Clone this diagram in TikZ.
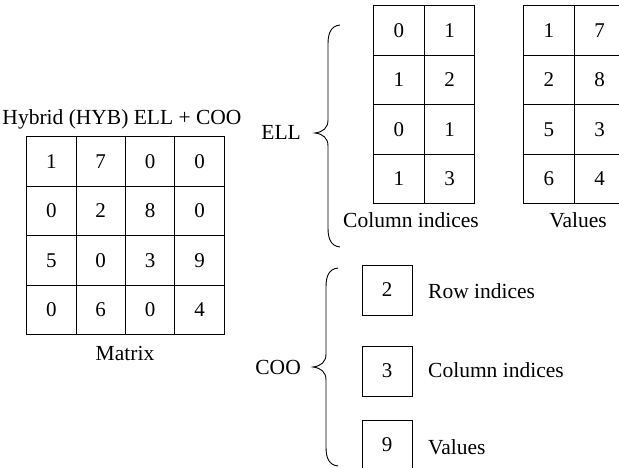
\documentclass[tikz,border=0pt]{standalone}
\usepackage{fontspec}
\setmainfont{Liberation Serif}
\usetikzlibrary{matrix}
\tikzset{
  lbl/.style={font=\fontsize{21.5}{25}\selectfont, inner sep=0pt},
  cellbox/.style={draw, line width=0.9pt, minimum height=49.5pt, inner sep=0pt, anchor=center, font=\fontsize{21}{25}\selectfont},
  cellgrid/.style={matrix of nodes, inner sep=0pt,
    nodes={cellbox, minimum width=49.4pt},
    column sep=-0.9pt, row sep=-0.9pt},
  widegrid/.style={matrix of nodes, inner sep=0pt,
    nodes={cellbox, minimum width=50.6pt},
    column sep=-0.9pt, row sep=-0.9pt},
  onebox/.style={draw, line width=0.9pt, minimum width=50pt, minimum height=50pt, inner sep=0pt, font=\fontsize{21}{25}\selectfont},
  bracepath/.style={line width=0.9pt}
}
\begin{document}
\begin{tikzpicture}[x=1pt,y=-1pt]
\useasboundingbox (0,0) rectangle (619,468);

% Matrix
\node[lbl, anchor=base] (title) at (122,125) {Hybrid (HYB) ELL + COO};
\matrix (M) [cellgrid, anchor=north west] at (26,136) {
 1 & 7 & 0 & 0 \\
 0 & 2 & 8 & 0 \\
 5 & 0 & 3 & 9 \\
 0 & 6 & 0 & 4 \\
};
\node[lbl, anchor=base] (mlabel) at (125,360) {Matrix};

% ELL
\matrix (CI) [widegrid, anchor=north west] at (373,5) {
 0 & 1 \\
 1 & 2 \\
 0 & 1 \\
 1 & 3 \\
};
\matrix (VA) [widegrid, anchor=north west] at (523,5) {
 1 & 7 \\
 2 & 8 \\
 5 & 3 \\
 6 & 4 \\
};
\node[lbl, anchor=base] (cilabel) at (411,227) {Column indices};
\node[lbl, anchor=base] (valabel) at (578,227) {Values};
\node[lbl, anchor=east] (ell) at (301,132) {ELL};

\coordinate (et) at (340,25);
\coordinate (ep) at (315,133);
\coordinate (eb) at (340,247);
\draw[bracepath] (et) .. controls (331,26) and (328,33) .. (328,44)
  -- (328,120) .. controls (328,128) and (323,132) .. (ep)
  .. controls (323,134) and (328,138) .. (328,146)
  -- (328,228) .. controls (328,239) and (331,246) .. (eb);

% COO
\node[onebox] (r) at (387,290) {2};
\node[onebox] (c) at (387,371) {3};
\node[onebox] (v) at (387,445) {9};
\node[lbl, anchor=base west] (rl) at (428,298) {Row indices};
\node[lbl, anchor=base west] (cl) at (428,377) {Column indices};
\node[lbl, anchor=base west] (vl) at (428,454) {Values};
\node[lbl, anchor=east] (coo) at (301,367) {COO};

\coordinate (ct) at (338,268);
\coordinate (cp) at (313,367);
\coordinate (cb) at (338,466);
\draw[bracepath] (ct) .. controls (329,269) and (326,276) .. (326,287)
  -- (326,354) .. controls (326,362) and (321,366) .. (cp)
  .. controls (321,368) and (326,372) .. (326,380)
  -- (326,447) .. controls (326,458) and (329,465) .. (cb);
\end{tikzpicture}
\end{document}
